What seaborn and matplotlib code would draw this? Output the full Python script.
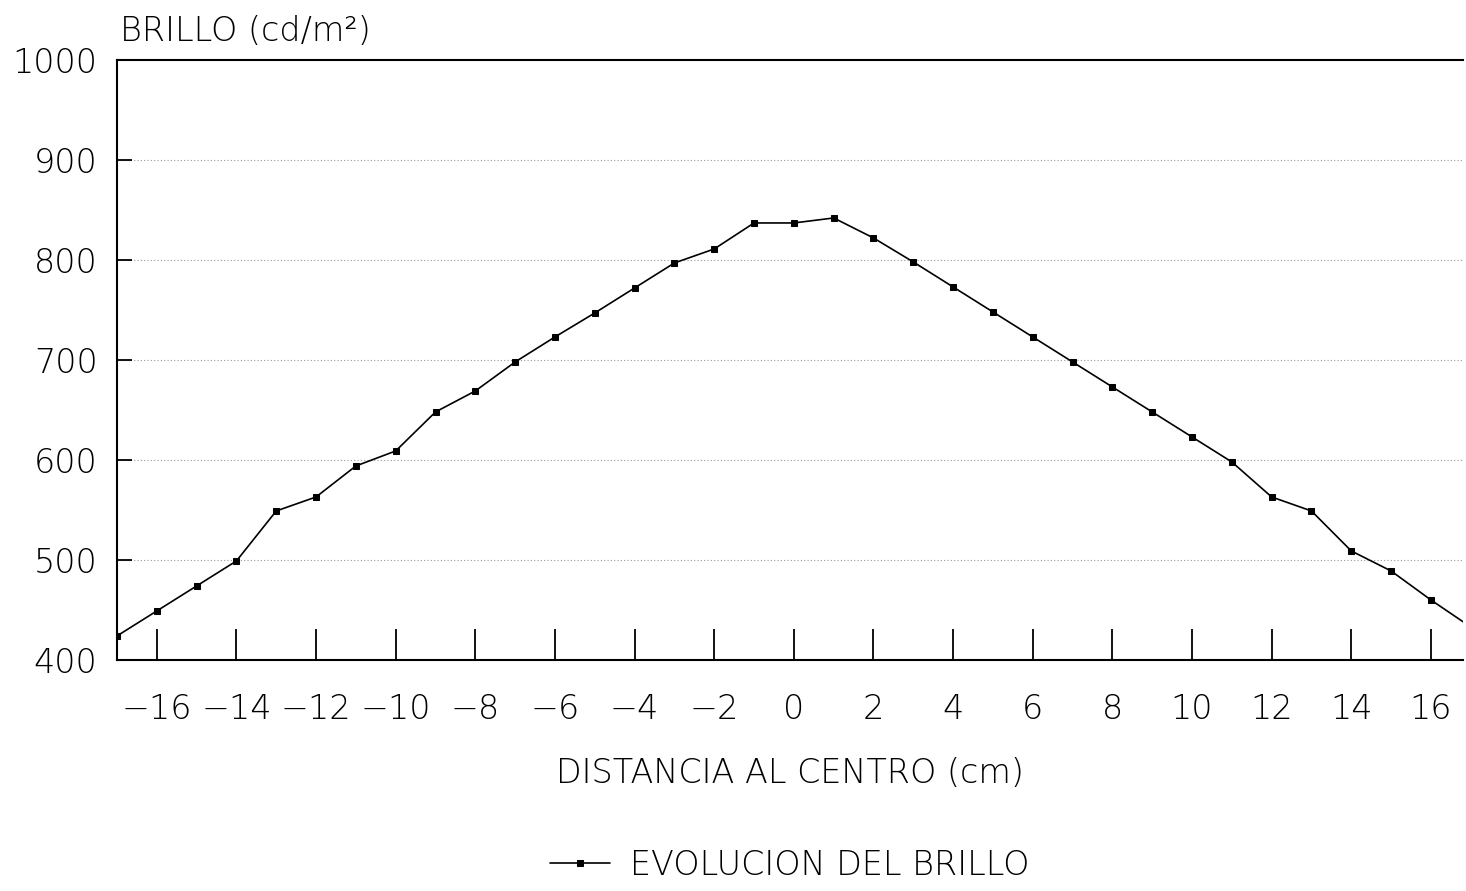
import pandas as pd
import matplotlib
matplotlib.use("Agg")
import matplotlib.pyplot as plt
import seaborn as sns

# datos
distancia = list(range(-17, 18))
brillo = [424, 449, 474, 499, 549, 563, 594, 609, 648, 669, 698, 723, 747, 772,
          797, 811, 837, 837, 842, 822, 798, 773, 748, 723, 698, 673, 648, 623,
          598, 563, 549, 509, 489, 460, 433]
xticks = list(range(-16, 17, 2))
yticks = [400, 500, 600, 700, 800, 900, 1000]

df = pd.DataFrame({"distancia": distancia, "brillo": brillo})

sns.set_theme(style="white")
plt.rcParams["font.family"] = ["DejaVu Sans"]
plt.rcParams["font.weight"] = "light"
plt.rcParams["axes.labelweight"] = "light"
plt.rcParams["text.color"] = "black"
plt.rcParams["axes.labelcolor"] = "black"
plt.rcParams["xtick.color"] = "black"
plt.rcParams["ytick.color"] = "black"

fs = 24

fig = plt.figure(figsize=(14.66, 8.91), dpi=100)
ax = fig.add_axes([0.0798, 0.2593, 0.918, 0.6734])

sns.lineplot(data=df, x="distancia", y="brillo", ax=ax, color="black",
             linewidth=1.2, marker="s", markersize=5, markeredgecolor="black",
             label="EVOLUCION DEL BRILLO")

ax.set_xlim(-17, 16.8)
ax.set_ylim(400, 1000)
ax.set_xticks(xticks)
ax.set_yticks(yticks)
ax.set_xticklabels([str(t).replace("-", "\u2212") for t in xticks], fontsize=fs)
ax.set_yticklabels([str(t) for t in yticks], fontsize=fs)

for y in [500, 600, 700, 800, 900]:
    ax.axhline(y, color="#999999", linestyle=(0, (1, 2)), linewidth=0.8, zorder=0)

for s in ["left", "bottom", "top"]:
    ax.spines[s].set_visible(True)
    ax.spines[s].set_color("black")
    ax.spines[s].set_linewidth(1.5)
ax.spines["right"].set_visible(False)

ax.tick_params(axis="x", bottom=True, direction="in", length=22, width=1.3,
               color="black", pad=24)
ax.tick_params(axis="y", left=True, direction="in", length=11, width=1.3,
               color="black", pad=14)

ax.set_xlabel("DISTANCIA AL CENTRO (cm)", fontsize=fs, fontweight="light",
              labelpad=22)
ax.set_ylabel("")
fig.text(0.082, 0.965, "BRILLO (cd/m²)", fontsize=fs, ha="left", va="center")

ax.legend(loc="upper center", bbox_to_anchor=(0.5, -0.265), frameon=False,
          fontsize=fs, handlelength=1.8, handletextpad=0.6)

fig.savefig("out.png", dpi=100)
